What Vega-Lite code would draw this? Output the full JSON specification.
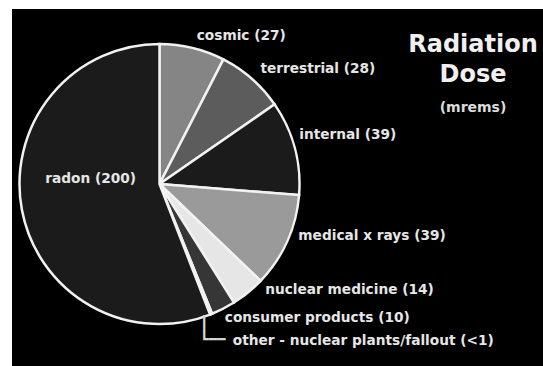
{
  "$schema": "https://vega.github.io/schema/vega-lite/v6.json",
  "width": 531,
  "height": 357,
  "autosize": {"type": "none"},
  "padding": {"left": 12, "top": 9, "right": 0, "bottom": 0},
  "background": "white",
  "view": {"fill": "black", "stroke": null},
  "config": {
    "view": {"fill": "black", "stroke": null},
    "font": "DejaVu Sans",
    "text": {"fontSize": 13.7, "fontWeight": "bold", "color": "#e6e6e6", "baseline": "middle", "align": "left"}
  },
  "title": {
    "text": ["Radiation", "Dose"],
    "subtitle": "(mrems)",
    "anchor": "end",
    "frame": "group",
    "align": "center",
    "dx": -70,
    "offset": -106,
    "font": "DejaVu Sans",
    "fontSize": 24,
    "fontWeight": "bold",
    "lineHeight": 30,
    "color": "#f0f0f0",
    "subtitleFont": "DejaVu Sans",
    "subtitleFontSize": 14,
    "subtitleFontWeight": "bold",
    "subtitleColor": "#dcdcdc",
    "subtitlePadding": 14
  },
  "data": {
    "values": [
      {"i": 1, "name": "cosmic", "dose": 27, "label": "cosmic (27)"},
      {"i": 2, "name": "terrestrial", "dose": 28, "label": "terrestrial (28)"},
      {"i": 3, "name": "internal", "dose": 39, "label": "internal (39)"},
      {"i": 4, "name": "medical x rays", "dose": 39, "label": "medical x rays (39)"},
      {"i": 5, "name": "nuclear medicine", "dose": 14, "label": "nuclear medicine (14)"},
      {"i": 6, "name": "consumer products", "dose": 10, "label": "consumer products (10)"},
      {"i": 7, "name": "other", "dose": 0.9, "label": "other - nuclear plants/fallout (<1)"},
      {"i": 8, "name": "radon", "dose": 200, "label": "radon (200)"}
    ]
  },
  "encoding": {
    "theta": {"field": "dose", "type": "quantitative", "stack": true},
    "order": {"field": "i", "type": "quantitative"}
  },
  "layer": [
    {
      "mark": {"type": "arc", "x": 147.5, "y": 175, "outerRadius": 140, "stroke": "#f2f2f2", "strokeWidth": 2.5},
      "encoding": {
        "color": {
          "field": "name",
          "type": "nominal",
          "scale": {
            "domain": ["cosmic", "terrestrial", "internal", "medical x rays", "nuclear medicine", "consumer products", "other", "radon"],
            "range": ["#858585", "#5c5c5c", "#1b1b1b", "#9a9a9a", "#e6e6e6", "#363636", "#3a3a3a", "#1b1b1b"]
          },
          "legend": null
        }
      }
    },
    {
      "mark": {"type": "text", "x": 149.5, "y": 173, "radius": 150},
      "encoding": {
        "text": {"condition": {"test": "datum.name === 'cosmic' || datum.name === 'terrestrial'", "field": "label"}, "value": ""}
      }
    },
    {
      "mark": {"type": "text", "x": 149.5, "y": 173, "radius": 150, "dx": -7, "dy": -8},
      "encoding": {
        "text": {"condition": {"test": "datum.name === 'internal'", "field": "label"}, "value": ""}
      }
    },
    {
      "mark": {"type": "text", "x": 149.5, "y": 173, "radius": 150, "dy": -7},
      "encoding": {
        "text": {"condition": {"test": "datum.name === 'medical x rays'", "field": "label"}, "value": ""}
      }
    },
    {
      "mark": {"type": "text", "x": 149.5, "y": 173, "radius": 150, "dx": 9, "dy": -8},
      "encoding": {
        "text": {"condition": {"test": "datum.name === 'nuclear medicine'", "field": "label"}, "value": ""}
      }
    },
    {
      "mark": {"type": "text", "x": 149.5, "y": 173, "radius": 150, "dx": -5, "dy": 2},
      "encoding": {
        "text": {"condition": {"test": "datum.name === 'consumer products'", "field": "label"}, "value": ""}
      }
    },
    {
      "mark": {"type": "text", "x": 149.5, "y": 173, "radius": 72, "dy": -16, "align": "center"},
      "encoding": {
        "text": {"condition": {"test": "datum.name === 'radon'", "field": "label"}, "value": ""}
      }
    },
    {
      "mark": {"type": "text", "x": 149.5, "y": 173, "radius": 150, "dx": 16, "dy": 20},
      "encoding": {
        "text": {"condition": {"test": "datum.name === 'other'", "field": "label"}, "value": ""}
      }
    },
    {
      "mark": {"type": "text", "x": 147.5, "y": 175, "radius": 140, "dx": -11, "dy": 3, "baseline": "top", "fontWeight": "normal", "font": "DejaVu Sans", "fontSize": 14, "lineHeight": 16.3, "lineBreak": "\n", "color": "#d4d4d4"},
      "encoding": {
        "text": {"condition": {"test": "datum.name === 'other'", "value": "┃\n┗━━"}, "value": ""}
      }
    }
  ]
}
